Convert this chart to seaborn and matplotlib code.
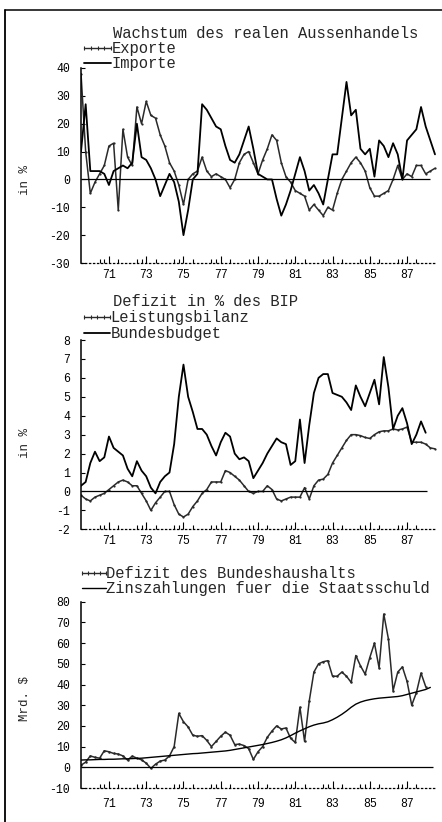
import numpy as np
import pandas as pd
import matplotlib
matplotlib.use("Agg")
import matplotlib.pyplot as plt
import seaborn as sns
from matplotlib.lines import Line2D

# ---------------- data (quarterly, starting 1970 Q1) ----------------
start_year = 1970
n_quarters = 77

exporte = [38, 10, -5, -1, 2, 5, 12, 13, -11, 18, 8, 5, 26, 20, 28, 23, 22, 16, 12, 6,
           3, -2, -9, 0, 2, 3, 8, 3, 1, 2, 1, 0, -3, 0, 6, 9, 10, 6, 2, 7,
           11, 16, 14, 6, 1, -1, -4, -5, -6, -11, -9, -11, -13, -10, -11, -5, 0, 3, 6, 8,
           6, 3, -3, -6, -6, -5, -4, 0, 5, 0, 2, 1, 5, 5, 2, 3, 4]
importe = [10, 27, 3, 3, 3, 2, -2, 3, 4, 5, 4, 6, 20, 8, 7, 4, 0, -6, -2, 2,
           -1, -8, -20, -11, 0, 2, 27, 25, 22, 19, 18, 12, 7, 6, 9, 14, 19, 11, 2, 1,
           0, 0, -7, -13, -9, -4, 2, 8, 3, -4, -2, -5, -9, 0, 9, 9, 22, 35, 23, 25,
           11, 9, 11, 1, 14, 12, 8, 13, 9, 0, 14, 16, 18, 26, 19, 14, 9]

leistungsbilanz = [-0.2, -0.4, -0.5, -0.3, -0.2, -0.1, 0.1, 0.3, 0.5, 0.6, 0.5, 0.3, 0.3, -0.1, -0.5, -1.0, -0.6, -0.3, 0.0, 0.0,
                   -0.7, -1.2, -1.35, -1.2, -0.8, -0.5, -0.1, 0.1, 0.5, 0.5, 0.5, 1.1, 1.0, 0.8, 0.6, 0.3, 0.0, -0.1, 0.0, 0.0,
                   0.3, 0.1, -0.4, -0.5, -0.4, -0.3, -0.3, -0.3, 0.2, -0.4, 0.3, 0.6, 0.65, 0.9, 1.5, 1.9, 2.3, 2.7, 3.0, 3.0,
                   2.95, 2.85, 2.8, 3.0, 3.15, 3.2, 3.2, 3.3, 3.25, 3.3, 3.4, 2.6, 2.6, 2.6, 2.5, 2.3, 2.25]
bundesbudget = [0.3, 0.5, 1.5, 2.1, 1.6, 1.8, 2.9, 2.3, 2.1, 1.9, 1.2, 0.8, 1.6, 1.1, 0.8, 0.2, -0.1, 0.5, 0.8, 1.0,
                2.5, 5.0, 6.7, 5.0, 4.2, 3.3, 3.3, 3.0, 2.4, 1.9, 2.6, 3.1, 2.9, 2.0, 1.7, 1.8, 1.6, 0.7, 1.1, 1.5,
                2.0, 2.4, 2.8, 2.6, 2.5, 1.4, 1.6, 3.8, 1.5, 3.5, 5.2, 6.0, 6.2, 6.2, 5.2, 5.1, 5.0, 4.7, 4.3, 5.6,
                5.0, 4.5, 5.2, 5.9, 4.6, 7.1, 5.5, 3.3, 4.0, 4.4, 3.6, 2.5, 3.0, 3.7, 3.1, np.nan, np.nan]

defizit = [1.0, 2.5, 5.5, 4.8, 4.4, 8.0, 7.5, 6.7, 6.4, 5.5, 3.5, 5.4, 4.4, 3.6, 2.0, -0.5, 1.5, 3.0, 3.5, 5.5,
           10.0, 26.0, 22.0, 19.5, 15.5, 15.0, 15.3, 13.0, 10.0, 12.5, 15.0, 17.0, 15.5, 11.0, 11.2, 10.5, 9.0, 3.8, 7.5, 10.0,
           14.5, 17.5, 20.0, 18.5, 19.0, 14.0, 12.0, 29.0, 12.5, 32.0, 46.0, 50.0, 51.0, 51.5, 44.0, 44.0, 46.0, 44.0, 41.0, 54.0,
           49.0, 45.0, 53.0, 60.0, 48.0, 74.0, 62.0, 37.0, 46.0, 48.5, 41.5, 30.0, 36.0, 45.5, 39.0, np.nan, np.nan]
zinszahlungen = [3.5, 3.6, 3.6, 3.7, 3.8, 3.8, 3.9, 3.9, 4.0, 4.1, 4.1, 4.2, 4.3, 4.4, 4.6, 4.8, 5.0, 5.2, 5.4, 5.6,
                 5.8, 6.0, 6.2, 6.4, 6.6, 6.7, 6.9, 7.1, 7.3, 7.5, 7.7, 7.9, 8.2, 8.6, 9.0, 9.4, 9.8, 10.2, 10.6, 11.0,
                 11.5, 12.0, 12.6, 13.3, 14.2, 15.3, 16.5, 17.6, 18.6, 19.6, 20.4, 21.0, 21.4, 22.0, 23.0, 24.2, 25.6, 27.2, 29.0, 30.5,
                 31.5, 32.2, 32.7, 33.1, 33.4, 33.6, 33.8, 34.0, 34.2, 34.6, 35.2, 35.8, 36.4, 37.0, 37.6, 38.6, np.nan]

year_labels = ["71", "73", "75", "77", "79", "81", "83", "85", "87"]

titles = ["Wachstum des realen Aussenhandels", "Defizit in % des BIP", None]
ylabels = ["in %", "in %", "Mrd. $"]

# ---------------- style ----------------
sns.set_theme(style="white")
plt.rcParams["font.family"] = ["Liberation Mono", "DejaVu Sans Mono"]
plt.rcParams["axes.unicode_minus"] = False

W, H = 442, 822
fig = plt.figure(figsize=(W / 100, H / 100), dpi=100)
fig.patch.set_facecolor("white")

def fx(x):
    return x / W

def fy(y):
    return 1 - y / H

t = start_year + np.arange(n_quarters) / 4.0
df = pd.DataFrame({
    "t": t,
    "Exporte": exporte, "Importe": importe,
    "Leistungsbilanz": leistungsbilanz, "Bundesbudget": bundesbudget,
    "Defizit": defizit, "Zins": zinszahlungen,
})

x_left = 1970.0
px_per_year = 354 / 19.0
x_right = x_left + 356 / px_per_year

def make_axes(top, bottom):
    ax = fig.add_axes([fx(81), fy(bottom), fx(437) - fx(81), (bottom - top) / H])
    ax.set_facecolor("none")
    return ax

def style_axes(ax, ylo, yhi, ystep, zero_end_px, xpad):
    ax.set_xlim(x_left, x_right)
    ax.set_ylim(ylo, yhi)
    ax.set_yticks(np.arange(ylo, yhi + ystep * 0.5, ystep))
    ax.set_yticklabels([f"{v:g}" for v in np.arange(ylo, yhi + ystep * 0.5, ystep)])
    major = [1900 + int(l) + 0.5 for l in year_labels]
    ax.set_xticks(major)
    ax.set_xticklabels(year_labels)
    minor = []
    for l in year_labels:
        y = 1900 + int(l)
        minor += [y, y + 0.25, y + 1.0]
    ax.set_xticks(minor, minor=True)
    for s in ["top", "right"]:
        ax.spines[s].set_visible(False)
    ax.spines["left"].set_color("black")
    ax.spines["left"].set_linewidth(1.1)
    ax.spines["bottom"].set_color("black")
    ax.spines["bottom"].set_linewidth(0.9)
    ax.spines["bottom"].set_linestyle((0, (1, 2.2)))
    ax.tick_params(axis="y", direction="in", length=3, width=0.8, color="black",
                   labelsize=8.3, pad=8, left=True, labelcolor="black")
    ax.tick_params(axis="x", which="major", direction="in", length=5, width=0.8,
                   color="black", labelsize=8.3, pad=xpad, bottom=True, labelcolor="black")
    ax.tick_params(axis="x", which="minor", direction="in", length=3, width=0.8,
                   color="black", bottom=True)
    ax.hlines(0, x_left, x_left + (zero_end_px - 81) / px_per_year, color="black", lw=0.9)
    ax.set_xlabel("")
    ax.set_ylabel("")
    ax.grid(False)

# ---------------- panel 1 ----------------
ax1 = make_axes(68, 263)
sns.lineplot(data=df, x="t", y="Exporte", ax=ax1, color="#2a2a2a", lw=1.1,
             marker="o", markersize=1.6, markeredgewidth=0)
sns.lineplot(data=df, x="t", y="Importe", ax=ax1, color="black", lw=1.3)
style_axes(ax1, -30, 40, 10, 430, 4)

# ---------------- panel 2 ----------------
ax2 = make_axes(340, 529.3)
sns.lineplot(data=df, x="t", y="Leistungsbilanz", ax=ax2, color="#2a2a2a", lw=1.1,
             marker="o", markersize=1.6, markeredgewidth=0)
sns.lineplot(data=df, x="t", y="Bundesbudget", ax=ax2, color="black", lw=1.3)
style_axes(ax2, -2, 8, 1, 427, 4)

# ---------------- panel 3 ----------------
ax3 = make_axes(601.7, 788)
sns.lineplot(data=df, x="t", y="Defizit", ax=ax3, color="#2a2a2a", lw=1.1,
             marker="o", markersize=1.8, markeredgewidth=0)
sns.lineplot(data=df, x="t", y="Zins", ax=ax3, color="black", lw=1.0)
style_axes(ax3, -10, 80, 10, 433, 7)

# ---------------- texts ----------------
fs_big = 11.2
fig.text(fx(113), fy(33.5), titles[0], fontsize=fs_big, ha="left", va="center")
fig.text(fx(113), fy(302), titles[1], fontsize=fs_big, ha="left", va="center")

def legend_entry(x0, x1, y, label, marked, lw):
    if marked:
        xs = np.linspace(fx(x0), fx(x1), 5)
        fig.add_artist(Line2D(xs, [fy(y)] * len(xs), transform=fig.transFigure,
                              color="#2a2a2a", lw=lw, marker="|", markersize=3,
                              markeredgewidth=0.8))
    else:
        fig.add_artist(Line2D([fx(x0), fx(x1)], [fy(y), fy(y)], transform=fig.transFigure,
                              color="black", lw=lw))
    fig.text(fx(x1 + 0.5), fy(y), label, fontsize=fs_big, ha="left", va="center")

legend_entry(84, 111, 48, "Exporte", True, 1.0)
legend_entry(84, 111, 63.5, "Importe", False, 1.3)
legend_entry(84, 110, 317, "Leistungsbilanz", True, 1.0)
legend_entry(84, 110, 333, "Bundesbudget", False, 1.3)
legend_entry(82, 106, 573, "Defizit des Bundeshaushalts", True, 1.0)
legend_entry(82, 106, 588, "Zinszahlungen fuer die Staatsschuld", False, 1.0)

fig.text(fx(25), fy(180), ylabels[0], rotation=90, fontsize=9, ha="center", va="center")
fig.text(fx(25), fy(443), ylabels[1], rotation=90, fontsize=9, ha="center", va="center")
fig.text(fx(25), fy(698), ylabels[2], rotation=90, fontsize=9, ha="center", va="center")

# ---------------- frame of the scanned page ----------------
fig.add_artist(Line2D([fx(5), fx(5)], [fy(10), fy(822)], transform=fig.transFigure,
                      color="black", lw=1.3))
fig.add_artist(Line2D([fx(5), fx(442)], [fy(10), fy(10)], transform=fig.transFigure,
                      color="black", lw=1.1))

fig.savefig("out.png", dpi=100, facecolor="white")
